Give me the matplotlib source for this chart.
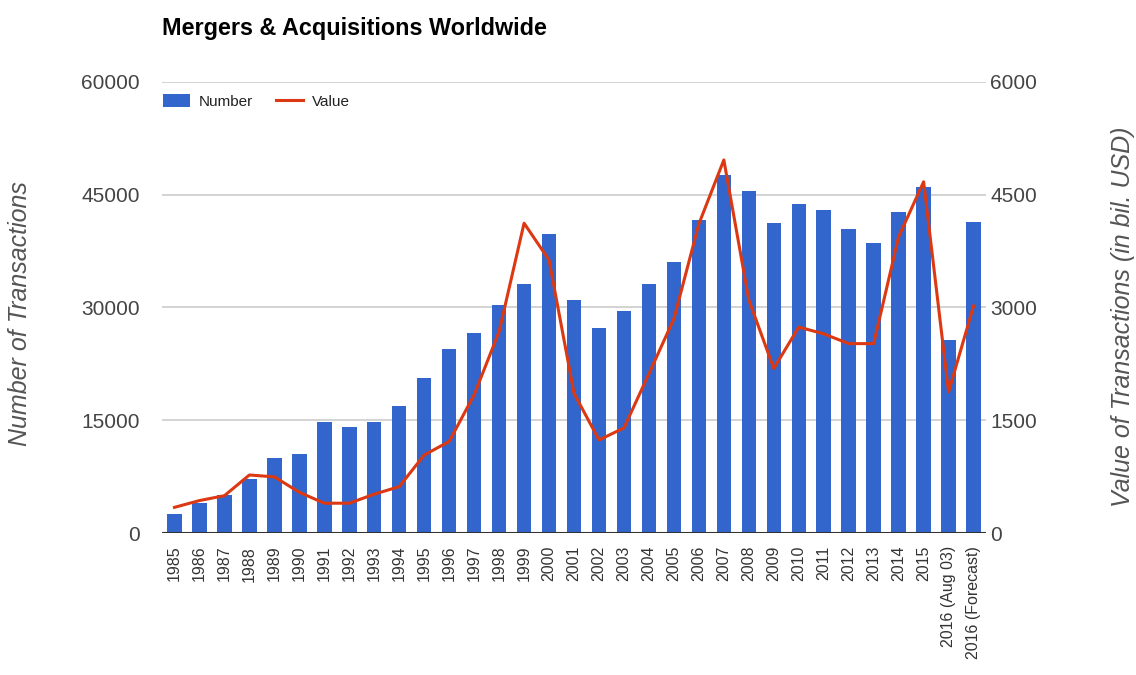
import matplotlib.pyplot as plt
import numpy as np

plt.rcParams['font.family'] = ['Liberation Sans', 'DejaVu Sans']

years = ["1985", "1986", "1987", "1988", "1989", "1990", "1991", "1992", "1993",
         "1994", "1995", "1996", "1997", "1998", "1999", "2000", "2001", "2002",
         "2003", "2004", "2005", "2006", "2007", "2008", "2009", "2010", "2011",
         "2012", "2013", "2014", "2015", "2016 (Aug 03)", "2016 (Forecast)"]
number = [2600, 4000, 5100, 7200, 10000, 10600, 14800, 14100, 14800,
          16900, 20600, 24500, 26600, 30300, 33100, 39700, 31000, 27300,
          29600, 33100, 36100, 41600, 47600, 45500, 41200, 43700, 43000,
          40400, 38600, 42700, 46000, 25700, 41400]
value = [345, 435, 500, 775, 750, 545, 400, 400, 520,
         620, 1040, 1220, 1840, 2680, 4120, 3630, 1860, 1240,
         1400, 2120, 2850, 4110, 4960, 3100, 2190, 2740, 2650,
         2520, 2520, 3940, 4670, 1880, 3020]

blue = "#3366CC"
red = "#DC3912"
grey = "#444444"

fig = plt.figure(figsize=(11.36, 6.75), dpi=100)
ax = fig.add_axes([0.1426, 0.2099, 0.868 - 0.1426, 0.879 - 0.2099])
ax2 = ax.twinx()

x = np.arange(len(years))
ax.bar(x, number, width=0.58, color=blue, label="Number", zorder=2)
ax2.plot(x, value, color=red, lw=2.2, label="Value", zorder=3)

ax.set_xlim(-0.5, len(years) - 0.5)
ax.set_ylim(0, 60000)
ax2.set_ylim(0, 6000)
ax.set_yticks([0, 15000, 30000, 45000, 60000])
ax2.set_yticks([0, 1500, 3000, 4500, 6000])
ax.yaxis.grid(True, color="#cccccc", lw=1.2, zorder=0)
ax.set_axisbelow(True)

for a in (ax, ax2):
    for s in ("top", "right", "left", "bottom"):
        a.spines[s].set_visible(False)
    a.tick_params(length=0, labelsize=15, labelcolor=grey)
ax.axhline(0, color="#333333", lw=1.5, zorder=4)

ax.set_xticks(x)
ax.set_xticklabels(years, rotation=90, fontsize=11.5, color="#333333")
ax.tick_params(axis="x", pad=9)
ax.tick_params(axis="y", pad=16)
ax2.tick_params(axis="y", pad=3)

fig.text(20 / 1136, 1 - 314 / 675, "Number of Transactions", fontsize=18,
         style="italic", color="#555555", rotation=90, ha="center", va="center")
fig.text(1123 / 1136, 1 - 317 / 675, "Value of Transactions (in bil. USD)",
         fontsize=18, style="italic", color="#555555", rotation=90,
         ha="center", va="center")

fig.text(0.1426, 0.958, "Mergers & Acquisitions Worldwide", fontsize=16.8,
         fontweight="bold", color="#000000", va="center", ha="left")

h1, l1 = ax.get_legend_handles_labels()
h2, l2 = ax2.get_legend_handles_labels()
ax2.legend(h1 + h2, l1 + l2, loc="upper left", bbox_to_anchor=(0.001, 0.972),
           ncol=2, frameon=False, fontsize=11, handlelength=1.75,
           handleheight=0.9, handletextpad=0.6, columnspacing=1.5,
           borderpad=0, borderaxespad=0, labelcolor="#222222")

plt.savefig("out.png", dpi=100)
